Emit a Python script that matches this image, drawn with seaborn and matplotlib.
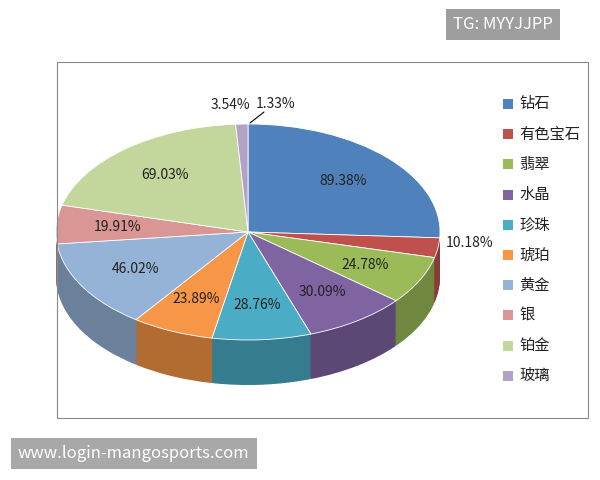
import numpy as np
import matplotlib.pyplot as plt
import matplotlib.colors as mcolors
import seaborn as sns

sns.set_style("white")
plt.rcParams['font.family'] = ['Noto Sans CJK SC', 'DejaVu Sans']

names = ['钻石', '有色宝石', '翡翠', '水晶', '珍珠', '琥珀', '黄金', '银', '铂金', '玻璃']
values = [89.38, 10.18, 24.78, 30.09, 28.76, 23.89, 46.02, 19.91, 69.03, 3.54]
extra_label = '1.33%'
colors = ['#4F81BD', '#C0504D', '#9BBB59', '#8064A2', '#4BACC6',
          '#F79646', '#95B3D7', '#D99694', '#C3D69B', '#B3A2C7']

ratio = 192 / 108     # horizontal / vertical radius
def Y(px):
    return (480 - px) * ratio

cx, cy_px, r, depth_px = 248, 232, 192, 45
cy = Y(cy_px)
depth = depth_px * ratio

fig = plt.figure(figsize=(6, 4.8), dpi=100)
ax = fig.add_axes([0, 0, 1, 1])

dark = [tuple(np.array(mcolors.to_rgb(c)) * 0.72) for c in colors]
n = 40
for k in range(n):
    yk = cy - depth * (1 - k / n)
    ax.pie(values, colors=dark, startangle=90, counterclock=False, radius=r,
           center=(cx, yk), frame=True, wedgeprops=dict(linewidth=0))
wedges, _, autotexts = ax.pie(values, colors=colors, startangle=90, counterclock=False,
                              radius=r, center=(cx, cy), frame=True,
                              autopct=lambda p: '', pctdistance=0.68,
                              wedgeprops=dict(linewidth=0.6, edgecolor='white'))
for t, v in zip(autotexts, values):
    t.set_text(f'{v:.2f}%')
    t.set_fontsize(10)
    t.set_color('#222222')
# move the small slices' labels
autotexts[1].set_position((470, Y(243)))
autotexts[9].set_position((230, Y(105)))

ax.text(276, Y(104), extra_label, fontsize=10, ha='center', va='center', color='#222222')
ax.plot([250, 264], [Y(123), Y(112)], color='black', lw=0.8)

ax.set_xlim(0, 600)
ax.set_ylim(0, 480 * ratio)
ax.set_aspect('auto')
ax.axis('off')

# frame
ax.add_patch(plt.Rectangle((57, Y(418)), 531, 356 * ratio, fill=False,
                           edgecolor='#888888', lw=0.8))

# legend
for i, (nm, c) in enumerate(zip(names, colors)):
    ypx = 104 + i * 30.2
    ax.add_patch(plt.Rectangle((503, Y(ypx + 5)), 10, 10 * ratio,
                               facecolor=c, edgecolor='none'))
    ax.text(519, Y(ypx), nm, fontsize=11, va='center', color='#222222')

fig.text(0.755, 0.948, 'TG: MYYJJPP', fontsize=12, color='white', va='center',
         bbox=dict(facecolor='#9e9e9e', edgecolor='none', pad=5))
fig.text(0.03, 0.055, 'www.login-mangosports.com', fontsize=12, color='white', va='center',
         bbox=dict(facecolor='#a8a8a8', edgecolor='none', pad=5))

fig.savefig('out.png', dpi=100)
